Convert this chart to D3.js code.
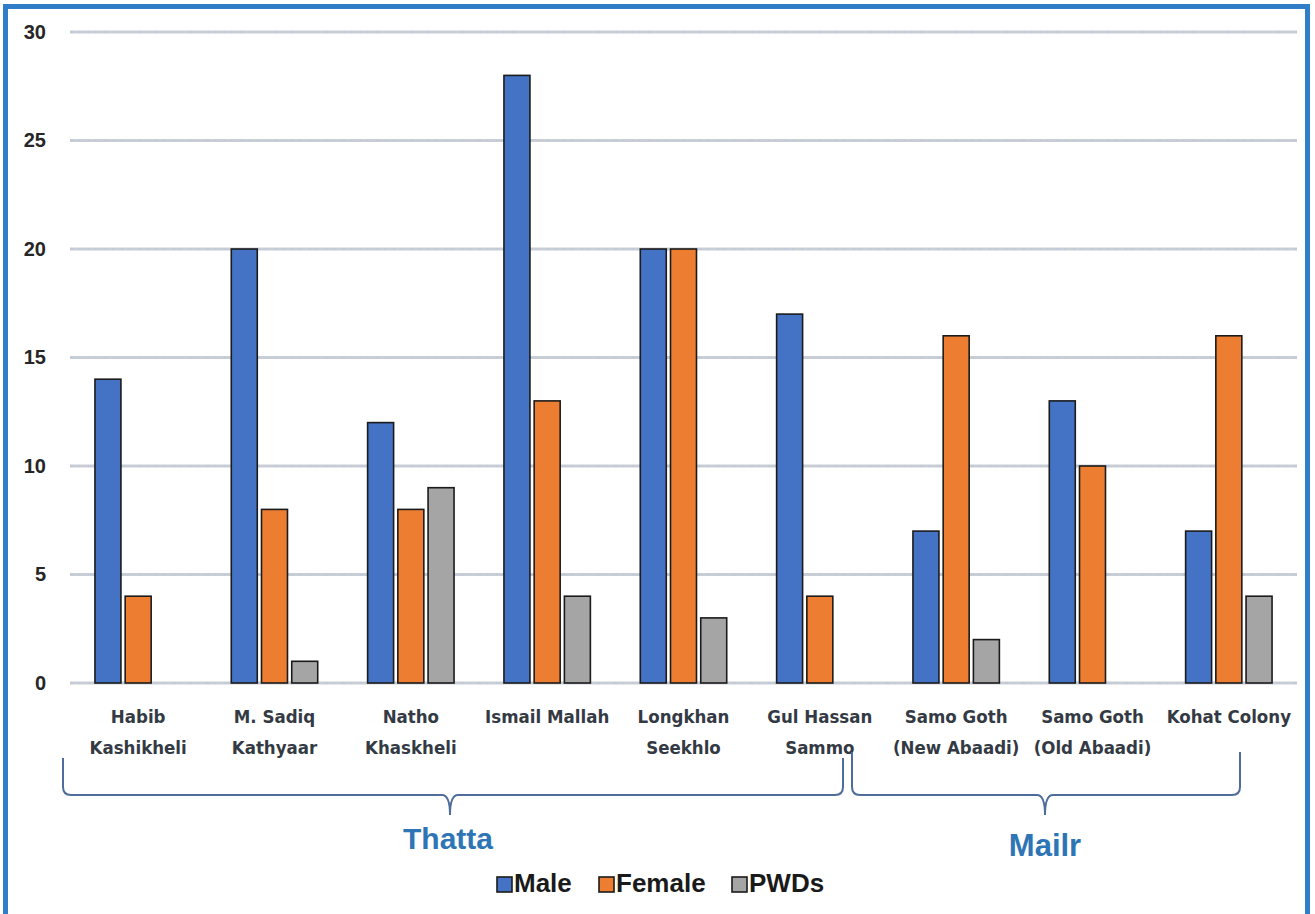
<!DOCTYPE html>
<html><head><meta charset="utf-8">
<script src="https://cdn.jsdelivr.net/npm/d3@7"></script>
<style>
html,body{margin:0;padding:0;background:#fff;}
svg{display:block;}
</style></head>
<body>
<svg id="chart" width="1315" height="914"></svg>
<script>
const categories = [
  ["Habib", "Kashikheli"],
  ["M. Sadiq", "Kathyaar"],
  ["Natho", "Khaskheli"],
  ["Ismail Mallah"],
  ["Longkhan", "Seekhlo"],
  ["Gul Hassan", "Sammo"],
  ["Samo Goth", "(New Abaadi)"],
  ["Samo Goth", "(Old Abaadi)"],
  ["Kohat Colony"]
];
const seriesNames = ["Male", "Female", "PWDs"];
const male   = [14, 20, 12, 28, 20, 17, 7, 13, 7];
const female = [4, 8, 8, 13, 20, 4, 16, 10, 16];
const pwds   = [0, 1, 9, 4, 3, 0, 2, 0, 4];
const seriesColors = ["#4472c4", "#ed7d31", "#a5a5a5"];
const yTicks = [0, 5, 10, 15, 20, 25, 30];
const groups = [
  {name: "Thatta", from: 0, to: 5},
  {name: "Mailr", from: 6, to: 8}
];

const values = [male, female, pwds];
const svg = d3.select("#chart");
const W = 1315, H = 914;
const pL = 70, pR = 1297, pT = 32, pB = 683;

// border
svg.append("rect").attr("x", 5.5).attr("y", 6.5).attr("width", W - 13).attr("height", H + 20)
  .attr("fill", "none").attr("stroke", "#2f7ec7").attr("stroke-width", 5);

const x = d3.scaleBand().domain(d3.range(categories.length)).range([pL, pR]).padding(0);
const bw = x.bandwidth();
const x1 = d3.scaleBand().domain(seriesNames).range([bw * 0.183, bw * 0.817]).paddingInner(0.14);
const y = d3.scaleLinear().domain([0, 30]).range([pB, pT]);

// gridlines
const grid = svg.append("g");
yTicks.forEach(t => {
  grid.append("line").attr("x1", pL).attr("x2", pR).attr("y1", y(t)).attr("y2", y(t))
    .attr("stroke", "#c9cdd4").attr("stroke-width", 3);
  grid.append("line").attr("x1", pL).attr("x2", pR).attr("y1", y(t)).attr("y2", y(t))
    .attr("stroke", "#b9c8e6").attr("stroke-width", 1.2).attr("stroke-dasharray", "3 5 2 7");
});

// y axis labels
const yAxis = d3.axisLeft(y).tickValues(yTicks).tickSize(0).tickPadding(0);
const ya = svg.append("g").attr("transform", `translate(46,0)`).call(yAxis);
ya.select(".domain").remove();
ya.selectAll("text").attr("font-family", "'Liberation Sans', Arial, sans-serif")
  .attr("font-weight", "bold").attr("font-size", 20).attr("fill", "#262626");

// bars
seriesNames.forEach((s, si) => {
  svg.append("g").selectAll("rect").data(values[si].map((v, i) => ({v, i})).filter(d => d.v > 0))
    .join("rect")
    .attr("x", d => x(d.i) + x1(s))
    .attr("width", x1.bandwidth())
    .attr("y", d => y(d.v))
    .attr("height", d => y(0) - y(d.v))
    .attr("fill", seriesColors[si])
    .attr("stroke", "#1b1b1b").attr("stroke-width", 1.6);
});

// category labels
const catFont = "'Liberation Sans Narrow', 'Arial Narrow', 'DejaVu Sans Condensed', sans-serif";
const lab = svg.append("g");
categories.forEach((lines, i) => {
  const cx = x(i) + bw / 2;
  const t = lab.append("text").attr("x", cx).attr("y", 723)
    .attr("text-anchor", "middle").attr("font-family", catFont).attr("font-weight", "bold")
    .attr("font-size", 18.5).attr("fill", "#333a44");
  lines.forEach((l, j) => t.append("tspan").attr("x", cx).attr("dy", j === 0 ? 0 : 31).text(l));
});

// braces
function brace(x0, x1b, yTop, yBar, tip, yTipY) {
  const r = 8;
  const p = d3.path();
  p.moveTo(x0, yTop);
  p.lineTo(x0, yBar - r);
  p.quadraticCurveTo(x0, yBar, x0 + r, yBar);
  p.lineTo(tip - r, yBar);
  p.quadraticCurveTo(tip, yBar, tip, yTipY);
  p.quadraticCurveTo(tip, yBar, tip + r, yBar);
  p.lineTo(x1b - r, yBar);
  p.quadraticCurveTo(x1b, yBar, x1b, yBar - r);
  p.lineTo(x1b, yTop);
  return p.toString();
}
const bg = svg.append("g");
const braceSpec = [
  {x0: 63, x1: 843, yTop: 758, tip: 450, label: 448, ty: 849, fs: 30},
  {x0: 852, x1: 1240, yTop: 752, tip: 1045, label: 1045, ty: 856, fs: 31}
];
groups.forEach((g, gi) => {
  const b = braceSpec[gi];
  bg.append("path").attr("d", brace(b.x0, b.x1, b.yTop, 795, b.tip, 815))
    .attr("fill", "none").attr("stroke", "#4f6d9c").attr("stroke-width", 2);
  bg.append("text").attr("x", b.label).attr("y", b.ty).attr("text-anchor", "middle")
    .attr("font-family", "'Liberation Sans', Arial, sans-serif").attr("font-weight", "bold")
    .attr("font-size", b.fs).attr("fill", "#2e75b6").text(g.name);
});

// legend
const lg = svg.append("g");
const legX = [497, 599, 732];
seriesNames.forEach((s, i) => {
  lg.append("rect").attr("x", legX[i]).attr("y", 877).attr("width", 15).attr("height", 15)
    .attr("fill", seriesColors[i]).attr("stroke", "#1b1b1b").attr("stroke-width", 1.6);
  lg.append("text").attr("x", legX[i] + 17).attr("y", 892)
    .attr("font-family", "'Liberation Sans', Arial, sans-serif").attr("font-weight", "bold")
    .attr("font-size", 26).attr("fill", "#1a1a1a").text(s);
});
</script>
</body></html>
